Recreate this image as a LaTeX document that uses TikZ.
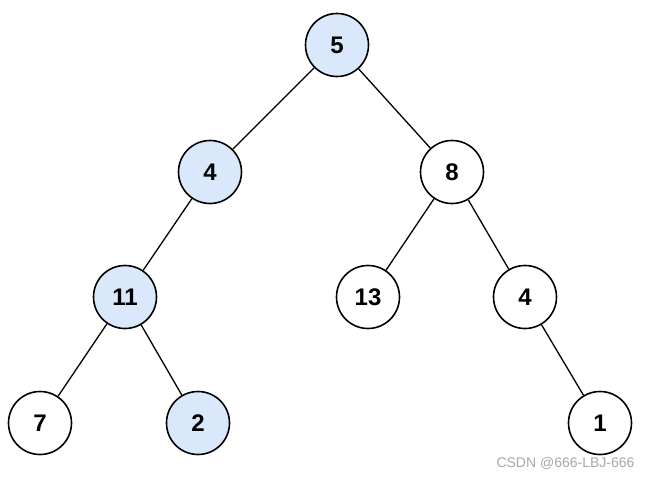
\documentclass[tikz,border=0pt]{standalone}
\usepackage{fontspec}
\setmainfont{Liberation Sans}
\usepackage{tikz}
\usetikzlibrary{arrows,calc,backgrounds}

\definecolor{hlblue}{HTML}{DAE8FC}
\definecolor{wmgray}{HTML}{A8A8A8}

\tikzset{
  tnode/.style={circle,draw=black,line width=1.6pt,minimum size=63pt,inner sep=0pt,
    fill=white,font=\fontsize{24}{26}\selectfont\bfseries},
  hnode/.style={tnode,fill=hlblue}
}

\begin{document}
\begin{tikzpicture}[x=1pt,y=-1pt]
    \useasboundingbox (0,0) rectangle (650,477);
    \clip (0,0) rectangle (650,477);
    \node[hnode] (N5) at (337,45) {5};
    \node[hnode] (N4) at (210,172) {4};
    \node[tnode] (N8) at (452,172) {8};
    \node[hnode] (N11) at (125,297) {11};
    \node[tnode] (N13) at (368,297) {13};
    \node[tnode] (N4r) at (525,297) {4};
    \node[tnode] (N7) at (40,423) {7};
    \node[hnode] (N2) at (198,423) {2};
    \node[tnode] (N1) at (600,423) {1};
    \path[-,line width=1.3pt]
      (N5) edge (N4)
      (N5) edge (N8)
      (N4) edge (N11)
      (N8) edge (N13)
      (N8) edge (N4r)
      (N11) edge (N7)
      (N11) edge (N2)
      (N4r) edge (N1);
    % watermark
    \node[text=wmgray,font=\fontsize{14}{16}\selectfont,anchor=east] (wm) at (638,463) {CSDN @666-LBJ-666};
  \end{tikzpicture}
\end{document}
